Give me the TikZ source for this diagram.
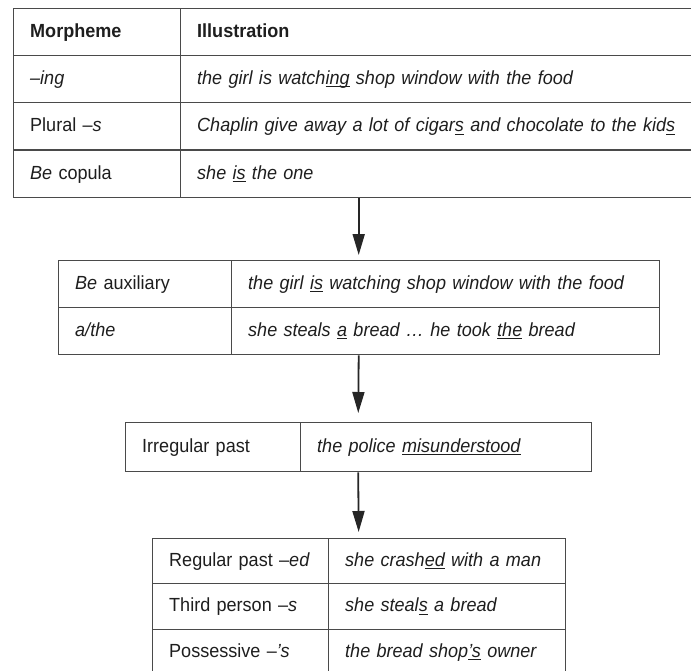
\documentclass[tikz,border=0pt]{standalone}
\usepackage{fontspec}
\setmainfont{Liberation Sans}[FakeStretch=0.95]
\usetikzlibrary{matrix,positioning,arrows.meta}
\definecolor{rulegray}{HTML}{4A4A4A}
\definecolor{inkgray}{HTML}{1E1E1E}
\newcommand\ulseg[1]{\setbox0\hbox{#1}\rlap{\rule[-2.6pt]{\wd0}{0.9pt}}\box0\relax}

\begin{document}
\begin{tikzpicture}[x=1pt, y=-1pt, line width=1.2pt,
    nodes={inner sep=0, text=inkgray},
    cell/.style={draw=rulegray, inner xsep=17pt, text height=13pt,
      text depth=2pt, align=left, font={\fontsize{19}{22}\selectfont}},
    tbl/.style={matrix of nodes, anchor=north west, inner sep=0,
      row sep=-\pgflinewidth, column sep=-\pgflinewidth, nodes={cell}},
    flow/.style={-{Triangle[length=21pt,width=12pt]}, line width=1.8pt,
      draw=black!85}]
  \useasboundingbox (0,0) rectangle (691,670);
  \clip (0,0) rectangle (691,670);
  \matrix (morph) at (12,7) [tbl, nodes={minimum height=47.25pt},
    column 1/.style={nodes={text width=133pt}},
    column 2/.style={nodes={text width=500pt}}] {
    \textbf{Morpheme} & \textbf{Illustration} \\
    \textit{–ing} & \textit{the girl is watch\ulseg{ing} shop window with the food} \\
    Plural –\textit{s} & \textit{Chaplin give away a lot of cigar\ulseg{s} and chocolate to the kid\ulseg{s}} \\
    \textit{Be} copula & \textit{she \ulseg{is} the one} \\
  };
  \matrix (aux) at (57,259) [tbl, nodes={minimum height=47pt},
    column 1/.style={nodes={text width=139pt}},
    column 2/.style={nodes={text width=394pt}}] {
    \textit{Be} auxiliary & \textit{the girl \ulseg{is} watching shop window with the food} \\
    \textit{a/the} & \textit{she steals \ulseg{a} bread … he took \ulseg{the} bread} \\
  };
  \matrix (irreg) at (124,421) [tbl, nodes={minimum height=49pt},
    column 1/.style={nodes={text width=141pt}},
    column 2/.style={nodes={text width=257pt}}] {
    Irregular past & \textit{the police \ulseg{misunderstood}} \\
  };
  \matrix (reg) at (151,537) [tbl, nodes={minimum height=45.5pt},
    column 1/.style={nodes={text width=142pt}},
    column 2/.style={nodes={text width=203pt}}] {
    \mbox{Regular past –\textit{ed}} & \textit{she crash\ulseg{ed} with a man} \\
    Third person –\textit{s} & \textit{she steal\ulseg{s} a bread} \\
    Possessive –\textit{’s} & \textit{the bread shop\ulseg{’s} owner} \\
  };
  \draw[flow, shorten >=4pt] (morph.south -| aux.north) -- (aux.north);
  \draw[flow, shorten >=8pt] (aux.south) -- (irreg.north);
  \draw[flow, shorten >=5pt] (irreg.south) -- (reg.north);
\end{tikzpicture}
\end{document}
